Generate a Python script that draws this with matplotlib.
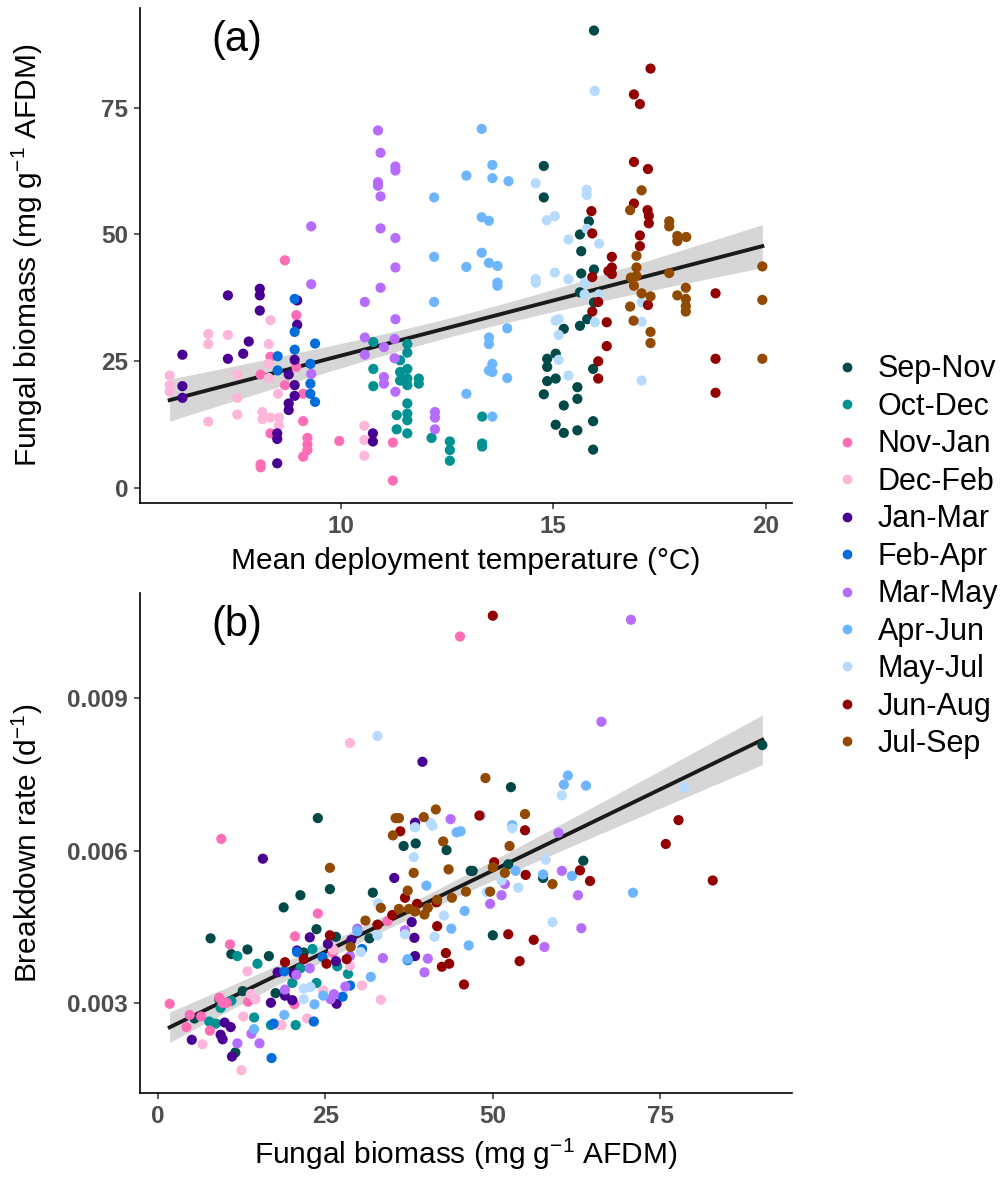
import numpy as np
import matplotlib.pyplot as plt
from matplotlib.lines import Line2D

plt.rcParams["font.family"] = ["Liberation Sans", "DejaVu Sans"]
plt.rcParams["mathtext.fontset"] = "custom"
plt.rcParams["mathtext.rm"] = "Liberation Sans"
plt.rcParams["mathtext.it"] = "Liberation Sans:italic"

seasons = ["Sep-Nov", "Oct-Dec", "Nov-Jan", "Dec-Feb", "Jan-Mar", "Feb-Apr",
           "Mar-May", "Apr-Jun", "May-Jul", "Jun-Aug", "Jul-Sep"]
colors = ["#004949", "#009292", "#ff6db6", "#ffb6db", "#490092", "#006ddb",
          "#b66dff", "#6db6ff", "#b6dbff", "#920000", "#924900"]

# panel (a): (mean deployment temperature, fungal biomass)
a_sep_nov = [(15.96, 90.2), (14.78, 63.5), (14.78, 57.3), (15.84, 52.6), (15.63, 50.0),
             (15.66, 46.7), (15.96, 43.1), (15.66, 42.3), (15.63, 38.6), (15.96, 36.6),
             (15.80, 33.3), (15.63, 32.0), (15.25, 31.4), (15.06, 26.5), (14.86, 25.5),
             (14.86, 23.9), (15.06, 21.6), (14.86, 21.1), (14.78, 18.5), (15.57, 19.9),
             (15.57, 17.6), (15.25, 16.3), (15.94, 23.5), (15.06, 12.5), (15.25, 10.9),
             (15.57, 11.4), (15.94, 13.2), (15.94, 7.6)]
a_oct_dec = [(10.77, 28.8), (10.77, 23.5), (10.77, 20.1), (11.57, 28.4), (11.57, 26.7),
             (11.40, 25.2), (11.57, 23.5), (11.40, 22.9), (11.40, 21.2), (11.57, 21.6),
             (11.57, 20.3), (11.84, 21.6), (11.84, 20.6), (11.57, 16.7), (11.32, 14.4),
             (11.57, 14.7), (11.57, 13.4), (11.32, 11.6), (11.57, 10.8), (12.14, 9.9),
             (12.57, 9.2), (12.57, 7.5), (12.57, 5.4), (13.33, 14.1), (13.33, 8.8),
             (13.33, 8.2)]
a_nov_jan = [(8.12, 22.4), (8.35, 25.9), (8.69, 44.9), (8.35, 10.8), (8.12, 4.7),
             (8.12, 4.1), (8.69, 20.3), (8.96, 34.1), (8.96, 23.9), (9.12, 18.6),
             (9.12, 13.2), (9.22, 9.9), (9.22, 8.6), (9.22, 7.5), (9.12, 6.2),
             (9.97, 9.3), (11.23, 9.0), (11.23, 1.5)]
a_dec_feb = [(5.98, 22.2), (5.98, 20.3), (5.98, 19.0), (6.89, 30.4), (6.89, 28.4),
             (6.89, 13.1), (7.35, 30.2), (7.57, 22.4), (7.57, 17.8), (7.57, 14.5),
             (8.35, 33.1), (8.31, 28.4), (8.31, 24.5), (8.31, 21.7), (8.16, 13.6),
             (8.35, 13.9), (8.55, 13.9), (8.55, 12.4), (8.16, 15.0), (8.53, 18.6),
             (10.56, 12.3), (10.56, 9.5), (10.56, 6.4)]
a_jan_mar = [(6.28, 26.3), (6.28, 20.1), (6.28, 17.8), (7.35, 38.0), (7.35, 25.5),
             (7.71, 26.5), (7.84, 28.9), (8.10, 39.3), (8.10, 38.0), (8.10, 35.0),
             (8.51, 10.8), (8.51, 9.7), (8.51, 4.9), (8.78, 22.4), (8.98, 37.0),
             (8.98, 32.2), (8.92, 25.3), (8.92, 20.3), (8.92, 18.2), (8.78, 16.7),
             (8.78, 15.4), (10.76, 10.8), (10.76, 9.2)]
a_feb_apr = [(8.92, 37.3), (8.92, 30.8), (8.92, 27.3), (8.52, 26.0), (8.52, 23.2),
             (9.40, 28.5), (9.29, 24.5), (9.29, 20.6), (9.29, 18.6), (9.40, 17.0)]
a_mar_may = [(9.31, 51.6), (9.31, 40.2), (9.31, 22.5), (10.88, 70.5), (10.94, 66.1),
             (10.88, 60.3), (10.88, 59.6), (10.94, 57.5), (11.29, 63.4), (11.29, 62.6),
             (10.94, 51.2), (11.29, 49.3), (11.29, 43.5), (10.94, 39.5), (10.57, 36.7),
             (11.29, 33.3), (10.57, 29.7), (10.57, 26.3), (11.02, 27.8), (11.27, 29.4),
             (11.27, 25.6), (11.02, 21.9), (11.02, 20.6), (11.29, 19.0), (12.22, 15.0),
             (12.22, 13.9), (12.22, 11.6)]
a_apr_jun = [(12.20, 57.3), (12.20, 45.6), (12.20, 36.7), (12.96, 61.6), (12.96, 43.6),
             (12.96, 18.6), (13.32, 70.8), (13.57, 63.7), (13.57, 61.1), (13.95, 60.5),
             (13.32, 53.4), (13.49, 52.7), (13.32, 46.4), (13.49, 44.4), (13.69, 43.8),
             (13.69, 40.5), (13.69, 39.9), (13.92, 31.5), (13.49, 29.7), (13.49, 28.4),
             (13.57, 24.5), (13.57, 22.9), (13.49, 23.2), (13.92, 21.7), (13.57, 14.1)]
a_may_jul = [(15.98, 78.3), (14.59, 60.1), (15.79, 58.8), (15.79, 57.8), (14.85, 52.8),
             (15.04, 53.6), (15.79, 51.1), (15.36, 49.0), (16.08, 48.2), (14.59, 41.2),
             (14.59, 40.5), (15.04, 42.5), (15.36, 41.2), (15.74, 40.5), (15.74, 38.2),
             (16.08, 38.2), (17.08, 36.6), (15.06, 33.0), (15.13, 33.3), (15.13, 30.2),
             (15.98, 32.7), (17.08, 32.8), (15.13, 25.3), (15.36, 22.2), (17.08, 21.2)]
a_jun_aug = [(17.29, 82.7), (16.90, 77.6), (17.04, 75.7), (16.90, 64.3), (17.23, 62.9),
             (16.90, 56.1), (17.22, 54.8), (17.25, 53.7), (17.25, 52.2), (15.90, 54.6),
             (15.92, 50.2), (17.04, 49.8), (17.04, 47.7), (16.38, 45.6), (16.30, 42.8),
             (16.38, 43.5), (16.38, 42.2), (15.92, 41.6), (16.06, 36.7), (15.92, 34.8),
             (17.23, 36.1), (16.26, 32.7), (16.26, 28.0), (16.06, 25.0), (16.06, 21.6),
             (18.82, 38.4), (18.82, 25.5), (18.82, 18.8)]
a_jul_sep = [(17.08, 58.7), (16.81, 54.8), (17.73, 52.6), (17.73, 51.6), (17.92, 49.7),
             (17.92, 48.7), (18.13, 49.5), (16.96, 45.8), (16.96, 43.5), (16.83, 41.5),
             (16.96, 41.8), (16.90, 39.9), (17.73, 42.4), (17.08, 38.4), (17.29, 37.8),
             (18.12, 39.5), (17.92, 38.0), (18.12, 37.3), (18.12, 35.9), (18.12, 34.8),
             (16.81, 35.8), (16.89, 33.0), (17.29, 30.8), (17.29, 28.6), (19.92, 43.7),
             (19.92, 37.1), (19.92, 25.5)]

# panel (b): (fungal biomass, breakdown rate)
b_sep_nov = [(23.9, 0.00664), (7.9, 0.00427), (11.0, 0.00396), (13.4, 0.00405), (16.6, 0.00392),
             (18.8, 0.00488), (21.3, 0.00512), (25.7, 0.00524), (23.7, 0.00445), (21.8, 0.00399),
             (31.6, 0.00427), (32.1, 0.00517), (17.6, 0.00319), (12.7, 0.00323), (5.5, 0.00269),
             (11.6, 0.00202), (9.2, 0.00307), (36.7, 0.00609), (38.5, 0.00614), (43.1, 0.00601),
             (46.7, 0.00560), (26.6, 0.00430), (90.2, 0.00808), (52.7, 0.00725), (63.5, 0.00580),
             (50.0, 0.00433), (52.3, 0.00573), (47.0, 0.00560), (57.5, 0.00546)]
b_oct_dec = [(11.9, 0.00392), (14.9, 0.00377), (23.1, 0.00406), (21.3, 0.00368), (26.8, 0.00372),
             (28.4, 0.00357), (23.7, 0.00339), (20.6, 0.00256), (20.1, 0.00339), (14.4, 0.00271),
             (7.7, 0.00263), (8.7, 0.00259), (9.4, 0.00290), (11.0, 0.00304), (16.9, 0.00256)]
b_nov_jan = [(45.1, 0.01022), (9.5, 0.00623), (10.8, 0.00415), (23.9, 0.00476), (20.5, 0.00431),
             (26.1, 0.00399), (34.3, 0.00461), (20.4, 0.00297), (13.5, 0.00302), (7.8, 0.00245),
             (9.2, 0.00310), (9.7, 0.00300), (10.3, 0.00300), (4.8, 0.00276), (6.5, 0.00273),
             (4.3, 0.00252), (1.8, 0.00298)]
b_dec_feb = [(28.7, 0.00812), (28.7, 0.00373), (30.5, 0.00334), (33.3, 0.00306), (24.7, 0.00324),
             (22.3, 0.00269), (18.0, 0.00256), (18.5, 0.00256), (13.9, 0.00317), (14.6, 0.00307),
             (13.4, 0.00362), (12.8, 0.00273), (12.5, 0.00167), (6.7, 0.00218), (26.2, 0.00405)]
b_jan_mar = [(39.5, 0.00775), (15.7, 0.00584), (22.7, 0.00429), (20.8, 0.00403), (25.4, 0.00416),
             (26.6, 0.00382), (17.9, 0.00360), (20.3, 0.00358), (28.9, 0.00424), (35.3, 0.00546),
             (26.7, 0.00298), (20.1, 0.00305), (19.0, 0.00314), (16.9, 0.00300), (11.1, 0.00194),
             (9.4, 0.00237), (9.7, 0.00228), (10.0, 0.00261), (10.9, 0.00252), (5.1, 0.00227),
             (38.4, 0.00655), (37.9, 0.00459), (38.3, 0.00428), (38.4, 0.00392)]
b_feb_apr = [(20.8, 0.00400), (18.9, 0.00362), (24.6, 0.00390), (30.5, 0.00406), (28.7, 0.00334),
             (27.6, 0.00312), (23.3, 0.00263), (17.3, 0.00259), (17.0, 0.00191), (37.3, 0.00384)]
b_mar_may = [(20.7, 0.00355), (22.7, 0.00368), (28.7, 0.00392), (29.8, 0.00446), (33.6, 0.00388),
             (28.0, 0.00332), (26.3, 0.00317), (25.8, 0.00307), (19.0, 0.00326), (14.0, 0.00239),
             (15.2, 0.00220), (11.9, 0.00220), (43.7, 0.00662), (36.9, 0.00443), (40.3, 0.00387),
             (39.8, 0.00360), (70.6, 0.01055), (66.2, 0.00854), (59.8, 0.00635), (60.3, 0.00560),
             (51.8, 0.00534), (51.3, 0.00512), (49.6, 0.00495), (62.7, 0.00512), (63.2, 0.00447),
             (57.7, 0.00410)]
b_apr_jun = [(29.8, 0.00441), (31.8, 0.00351), (24.7, 0.00314), (23.4, 0.00297), (18.9, 0.00276),
             (14.4, 0.00248), (44.6, 0.00636), (40.1, 0.00531), (45.8, 0.00481), (43.8, 0.00446),
             (37.3, 0.00386), (46.4, 0.00413), (61.2, 0.00748), (60.6, 0.00730), (63.9, 0.00728),
             (52.9, 0.00650), (53.4, 0.00560), (61.8, 0.00550), (70.9, 0.00517), (57.5, 0.00553),
             (45.2, 0.00638)]
b_may_jul = [(32.8, 0.00826), (32.9, 0.00496), (32.8, 0.00433), (30.3, 0.00400), (21.8, 0.00328),
             (22.8, 0.00331), (21.8, 0.00307), (38.4, 0.00646), (40.7, 0.00655), (41.0, 0.00649),
             (38.2, 0.00587), (42.7, 0.00472), (36.9, 0.00435), (41.3, 0.00430), (78.5, 0.00724),
             (60.3, 0.00709), (48.3, 0.00669), (52.9, 0.00644), (57.9, 0.00582), (51.3, 0.00541),
             (53.8, 0.00527), (49.1, 0.00518), (58.9, 0.00459)]
b_jun_aug = [(25.7, 0.00433), (19.0, 0.00380), (21.8, 0.00386), (25.2, 0.00377), (28.2, 0.00386),
             (32.8, 0.00454), (35.0, 0.00473), (36.2, 0.00638), (36.9, 0.00507), (38.7, 0.00495),
             (41.6, 0.00498), (41.7, 0.00451), (43.0, 0.00398), (42.4, 0.00371), (43.5, 0.00377),
             (45.7, 0.00336), (50.0, 0.01063), (48.0, 0.00669), (54.8, 0.00640), (77.7, 0.00660),
             (75.8, 0.00613), (82.8, 0.00541), (50.2, 0.00577), (54.9, 0.00552), (63.0, 0.00561),
             (64.5, 0.00540), (52.3, 0.00435), (56.1, 0.00424), (54.0, 0.00382)]
b_jul_sep = [(25.7, 0.00566), (28.8, 0.00410), (31.0, 0.00462), (33.3, 0.00487), (35.5, 0.00664),
             (36.0, 0.00664), (35.1, 0.00630), (39.7, 0.00666), (41.5, 0.00681), (42.6, 0.00618),
             (38.2, 0.00556), (43.4, 0.00563), (37.3, 0.00521), (36.0, 0.00485), (37.5, 0.00485),
             (38.4, 0.00480), (39.8, 0.00474), (40.3, 0.00487), (41.7, 0.00503), (43.9, 0.00507),
             (46.0, 0.00519), (48.9, 0.00743), (54.8, 0.00672), (52.5, 0.00609), (50.0, 0.00567),
             (51.8, 0.00556), (58.9, 0.00534), (49.6, 0.00519)]

panel_a = [a_sep_nov, a_oct_dec, a_nov_jan, a_dec_feb, a_jan_mar, a_feb_apr,
           a_mar_may, a_apr_jun, a_may_jul, a_jun_aug, a_jul_sep]
panel_b = [b_sep_nov, b_oct_dec, b_nov_jan, b_dec_feb, b_jan_mar, b_feb_apr,
           b_mar_may, b_apr_jun, b_may_jul, b_jun_aug, b_jul_sep]


def lm_band(x, y, n=100):
    # ordinary least squares with 95% confidence band, like geom_smooth(method="lm")
    x = np.asarray(x, float)
    y = np.asarray(y, float)
    slope, icpt = np.polyfit(x, y, 1)
    xs = np.linspace(x.min(), x.max(), n)
    fit = icpt + slope * xs
    resid = y - (icpt + slope * x)
    s = np.sqrt(np.sum(resid ** 2) / (len(x) - 2))
    se = s * np.sqrt(1 / len(x) + (xs - x.mean()) ** 2 / np.sum((x - x.mean()) ** 2))
    return xs, fit, fit - 1.97 * se, fit + 1.97 * se


def draw_panel(ax, groups, label):
    allx = np.concatenate([[p[0] for p in g] for g in groups])
    ally = np.concatenate([[p[1] for p in g] for g in groups])
    xs, fit, lo, hi = lm_band(allx, ally)
    ax.fill_between(xs, lo, hi, color="#999999", alpha=0.4, lw=0, zorder=1)
    ax.plot(xs, fit, color="#1a1a1a", lw=2.8, zorder=2)
    for g, c in zip(groups, colors):
        ax.scatter([p[0] for p in g], [p[1] for p in g], s=54, color=c,
                   edgecolors="none", zorder=3)
    ax.margins(0.05)
    for side in ["top", "right"]:
        ax.spines[side].set_visible(False)
    for side in ["left", "bottom"]:
        ax.spines[side].set_linewidth(1.2)
        ax.spines[side].set_color("black")
    ax.tick_params(length=4.5, width=1.1, color="#333333", labelsize=17.5,
                   labelcolor="#4d4d4d", pad=4)
    ax.text(0.149, 0.935, label, transform=ax.transAxes, fontsize=30,
            ha="center", va="center")


fig = plt.figure(figsize=(10.03, 11.77), dpi=100)
ax_a = fig.add_axes([0.1396, 0.5726, 0.650, 0.4206])
ax_b = fig.add_axes([0.1396, 0.0714, 0.650, 0.4248])

draw_panel(ax_a, panel_a, "(a)")
draw_panel(ax_b, panel_b, "(b)")

ax_a.set_xticks([10, 15, 20])
ax_a.set_yticks([0, 25, 50, 75])
ax_b.set_xticks([0, 25, 50, 75])
ax_b.set_yticks([0.003, 0.006, 0.009])
ax_b.set_yticklabels(["0.003", "0.006", "0.009"])
for ax in (ax_a, ax_b):
    for t in ax.get_xticklabels() + ax.get_yticklabels():
        t.set_fontweight("bold")

ax_a.set_xlabel("Mean deployment temperature (°C)", fontsize=21.5)
ax_a.set_ylabel(r"Fungal biomass (mg g$^{-1}$ AFDM)", fontsize=21.5)
ax_b.set_xlabel(r"Fungal biomass (mg g$^{-1}$ AFDM)", fontsize=21.5)
ax_b.set_ylabel(r"Breakdown rate (d$^{-1}$)", fontsize=21.5)
for ax in (ax_a, ax_b):
    ax.yaxis.set_label_coords(-0.145, 0.5)
    ax.xaxis.set_label_coords(0.5, -0.088)

handles = [Line2D([], [], ls="none", marker="o", ms=6, color=c) for c in colors]
fig.legend(handles, seasons, loc="center left", bbox_to_anchor=(0.820, 0.527),
           frameon=False, fontsize=22, handlelength=0.8, handletextpad=0.6,
           labelspacing=0.245, borderaxespad=0)

fig.savefig("out.png", dpi=100)
